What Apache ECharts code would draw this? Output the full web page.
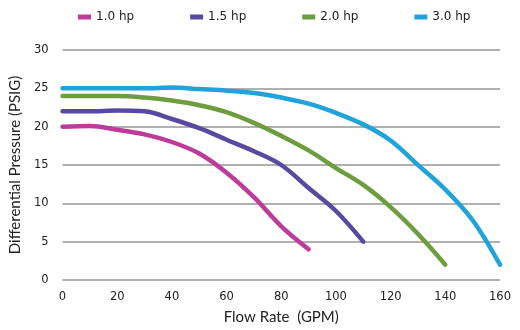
<!DOCTYPE html>
<html><head><meta charset="utf-8">
<script src="https://cdn.jsdelivr.net/npm/echarts@6/dist/echarts.min.js"></script>
<style>html,body{margin:0;padding:0;background:#fff}#c{width:520px;height:330px}</style>
</head><body><div id="c"></div>
<script>
const seriesNames = ['1.0 hp', '1.5 hp', '2.0 hp', '3.0 hp'];
const colors = ['#bd3c9a', '#5a4a9f', '#6c9d3e', '#1fa3d9'];
const hp10 = [[0,20],[10,20.1],[20,19.6],[30,19],[40,18],[50,16.5],[60,14],[70,10.8],[80,7],[90,4]];
const hp15 = [[0,22],[10,22],[20,22.1],[30,22],[40,21],[50,19.8],[60,18.3],[70,16.8],[80,15],[90,12],[100,9],[110,5]];
const hp20 = [[0,24],[10,24],[20,24],[30,23.8],[40,23.4],[50,22.8],[60,21.9],[70,20.5],[80,18.8],[90,16.9],[100,14.6],[110,12.4],[120,9.5],[130,6],[140,2]];
const hp30 = [[0,25],[10,25],[20,25],[30,25],[40,25.1],[50,24.9],[60,24.7],[70,24.4],[80,23.8],[90,23],[100,21.8],[110,20.3],[120,18.2],[130,15],[140,11.8],[150,7.8],[160,2]];
const allData = [hp10, hp15, hp20, hp30];

const chart = echarts.init(document.getElementById('c'), null, {renderer:'canvas'});
chart.setOption({
  animation: false,
  backgroundColor: '#fff',
  color: colors,
  legend: {
    top: 6, left: 73, itemWidth: 13, itemHeight: 5, itemGap: 56, icon: 'rect',
    textStyle: {fontFamily: 'DejaVu Sans', fontSize: 12, color: '#222'},
    data: seriesNames
  },
  grid: {left: 62, right: 20, top: 50, bottom: 46},
  xAxis: {
    type: 'value', min: 0, max: 160, interval: 20,
    name: 'Flow Rate  (GPM)', nameLocation: 'middle', nameGap: 30,
    nameTextStyle: {fontFamily: 'Lato', fontSize: 15, color: '#222'},
    axisLine: {show: false}, axisTick: {show: false},
    axisLabel: {fontFamily: 'DejaVu Sans', fontSize: 11.5, color: '#222', margin: 11},
    splitLine: {show: false}
  },
  yAxis: {
    type: 'value', min: 0, max: 30, interval: 5,
    name: 'Differential Pressure (PSIG)', nameLocation: 'middle', nameGap: 38,
    nameTextStyle: {fontFamily: 'Lato', fontSize: 15, color: '#222'},
    axisLine: {show: false}, axisTick: {show: false},
    axisLabel: {fontFamily: 'DejaVu Sans', fontSize: 11.5, color: '#222', margin: 14},
    splitLine: {lineStyle: {color: '#b0b0b0', width: 2}}
  },
  series: allData.map((d, i) => ({
    name: seriesNames[i], type: 'line', data: d, smooth: 0.35, showSymbol: false,
    lineStyle: {width: 4.5, color: colors[i], cap: 'round'}, itemStyle: {color: colors[i]}
  }))
});
</script></body></html>
